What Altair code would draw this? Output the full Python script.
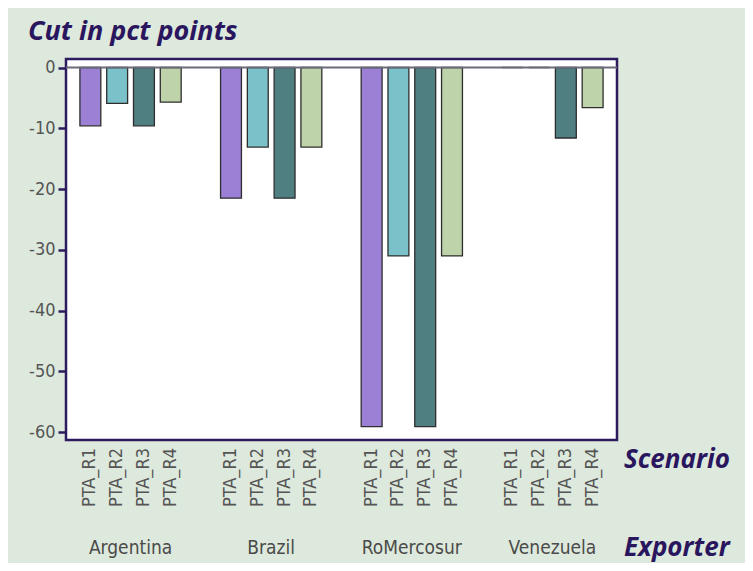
import altair as alt
import pandas as pd

exporters = ["Argentina", "Brazil", "RoMercosur", "Venezuela"]
scenarios = ["PTA_R1", "PTA_R2", "PTA_R3", "PTA_R4"]
cut_argentina = [-9.6, -5.9, -9.6, -5.7]
cut_brazil = [-21.5, -13.1, -21.5, -13.1]
cut_romercosur = [-59.1, -31.0, -59.1, -31.0]
cut_venezuela = [0.0, 0.0, -11.6, -6.6]
bar_colors = ["#9b80d6", "#7bc1c9", "#4f7f81", "#bed3a9"]
y_ticks = [0, -10, -20, -30, -40, -50, -60]

rows = []
for ex, vals in zip(exporters, [cut_argentina, cut_brazil, cut_romercosur, cut_venezuela]):
    for sc, v in zip(scenarios, vals):
        rows.append({"Exporter": ex, "Scenario": sc, "Cut": v})
df = pd.DataFrame(rows)

W, H = 551, 381
LABEL_FONT = "DejaVu Sans Condensed, Liberation Sans Narrow, Liberation Sans, sans-serif"
TITLE_FONT = "Open Sans"
TITLE_COLOR = "#2a165e"

x_enc = alt.X(
    "Exporter:N", sort=exporters,
    scale=alt.Scale(paddingInner=0.238, paddingOuter=0.078),
    axis=alt.Axis(title=None, labelAngle=0, domain=False, ticks=False,
                  labelPadding=98, labelFont=LABEL_FONT, labelFontSize=19,
                  labelColor="#4a4a4a"),
)
xoff_enc = alt.XOffset("Scenario:N", sort=scenarios,
                       scale=alt.Scale(paddingInner=0.22, paddingOuter=0.11))
y_scale = alt.Scale(domain=[-61.3, 1.4], nice=False, zero=False)

base = alt.Chart(df)

bars = base.mark_bar(stroke="#2e2e2e", strokeWidth=1.3).encode(
    x=x_enc,
    xOffset=xoff_enc,
    y=alt.Y("Cut:Q", scale=y_scale,
            axis=alt.Axis(values=y_ticks, title=None, grid=False, domain=False,
                          tickSize=8, tickWidth=2.5, tickColor="#2d1b5e",
                          labelFont=LABEL_FONT, labelFontSize=18, labelColor="#555555",
                          labelPadding=3,
                          labelExpr="datum.value == 0 ? '0' : '-' + abs(datum.value)")),
    y2=alt.datum(0),
    color=alt.Color("Scenario:N", sort=scenarios,
                    scale=alt.Scale(domain=scenarios, range=bar_colors), legend=None),
)

zero_line = alt.Chart(pd.DataFrame({"z": [0]})).mark_rule(
    color="#6b6b7a", strokeWidth=2
).encode(y=alt.Y("z:Q", scale=y_scale))

scen_labels = base.mark_text(
    angle=270, align="right", baseline="middle",
    font=LABEL_FONT, fontSize=18, color="#555555",
).encode(
    x=x_enc, xOffset=xoff_enc, y=alt.value(H + 8), text="Scenario:N"
)


def title_text(label, xpos, ypos, size):
    d = pd.DataFrame({"t": [label]})
    return alt.Chart(d).mark_text(
        align="left", baseline="middle", font=TITLE_FONT, fontSize=size,
        fontWeight="bold", fontStyle="italic", color=TITLE_COLOR,
    ).encode(x=alt.value(xpos), y=alt.value(ypos), text="t:N")


main_title = title_text("Cut in pct points", -38, -27, 27)
scen_title = title_text("Scenario", 558, 401, 26)
exp_title = title_text("Exporter", 558, 489, 26)

chart = alt.layer(
    bars, zero_line, scen_labels, main_title, scen_title, exp_title
).properties(
    width=W, height=H,
    padding={"left": 58, "top": 51, "right": 128, "bottom": 123},
    autosize=alt.AutoSizeParams(type="none"),
    background="#dde9dc",
).configure_view(
    stroke="#2d1b5e", strokeWidth=2.5, fill="white"
)

chart.save("out.html", embed_options={"renderer": "svg", "actions": False})
